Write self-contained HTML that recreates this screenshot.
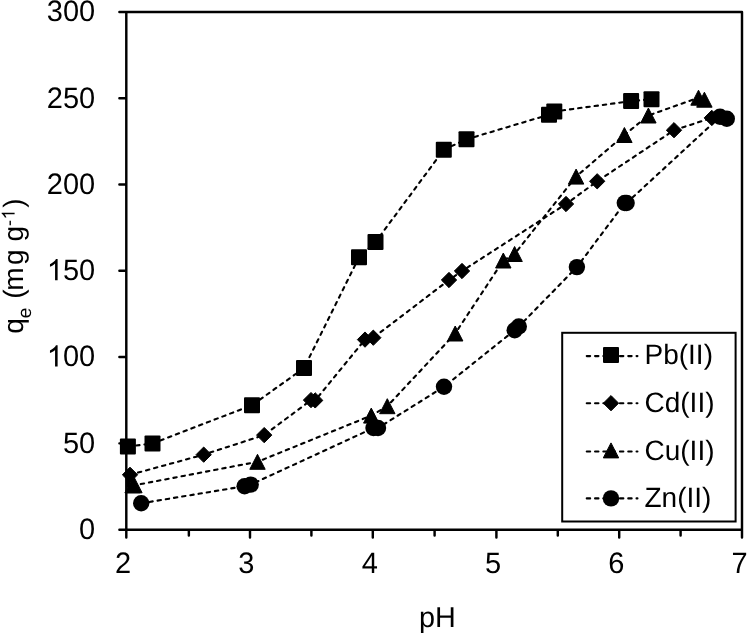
<!DOCTYPE html>
<html><head><meta charset="utf-8"><title>qe vs pH</title>
<style>
html,body{margin:0;padding:0;background:#fff;}
body{width:747px;height:635px;overflow:hidden;}
svg{display:block;will-change:transform;}
text{font-family:"Liberation Sans",sans-serif;fill:#000;text-rendering:geometricPrecision;}
</style></head><body>
<svg width="747" height="635" viewBox="0 0 747 635">
<rect width="747" height="635" fill="#fff"/>
<path d="M119.4 11.9H742M742 11.9V537.45M126.3 11.9V537.45M119.4 529.65H742M119.4 443.36H126.3M119.4 357.07H126.3M119.4 270.77H126.3M119.4 184.48H126.3M119.4 98.19H126.3M188.85 529.65V535.45M250 529.65V537.45M311.4 529.65V535.45M372.8 529.65V537.45M434.6 529.65V535.45M496.4 529.65V537.45M557.8 529.65V535.45M619.2 529.65V537.45M680.6 529.65V535.45" fill="none" stroke="#000" stroke-width="2.45" stroke-linecap="round"/>
<g font-size="29"><g transform="translate(95.2 539.05) scale(1 1.02)"><text text-anchor="end">0</text></g><g transform="translate(95.2 452.76) scale(1 1.02)"><text text-anchor="end">50</text></g><g transform="translate(95.2 366.47) scale(1 1.02)"><path d="M763 0L583 0L583 1147Q518 1085 412 1023Q307 961 223 930L223 1104Q374 1175 487 1276Q600 1377 647 1472L763 1472Z" transform="translate(-48.39 0) scale(0.01416 -0.01416)"/><text text-anchor="end">00</text></g><g transform="translate(95.2 280.17) scale(1 1.02)"><path d="M763 0L583 0L583 1147Q518 1085 412 1023Q307 961 223 930L223 1104Q374 1175 487 1276Q600 1377 647 1472L763 1472Z" transform="translate(-48.39 0) scale(0.01416 -0.01416)"/><text text-anchor="end">50</text></g><g transform="translate(95.2 193.88) scale(1 1.02)"><text text-anchor="end">200</text></g><g transform="translate(95.2 107.59) scale(1 1.02)"><text text-anchor="end">250</text></g><g transform="translate(95.2 21.3) scale(1 1.02)"><text text-anchor="end">300</text></g><text transform="translate(123.1 572.8) scale(1 1.02)" text-anchor="middle">2</text><text transform="translate(246.4 572.8) scale(1 1.02)" text-anchor="middle">3</text><text transform="translate(369.7 572.8) scale(1 1.02)" text-anchor="middle">4</text><text transform="translate(493 572.8) scale(1 1.02)" text-anchor="middle">5</text><text transform="translate(616.3 572.8) scale(1 1.02)" text-anchor="middle">6</text><text transform="translate(739.6 572.8) scale(1 1.02)" text-anchor="middle">7</text></g>
<text x="437.5" y="627.3" font-size="28.8" text-anchor="middle">pH</text>
<g transform="translate(23.3 340) rotate(-90)" font-size="28"><text x="6.32" y="0">q</text><text x="21.8" y="7.2" font-size="19.1">e</text><text x="41.26" y="0">(</text><text x="49.25" y="0">m</text><text x="74.92" y="0">g</text><text x="98.42" y="0">g</text><text x="113.9" y="-8.7" font-size="18">-</text><path d="M763 0L583 0L583 1147Q518 1085 412 1023Q307 961 223 930L223 1104Q374 1175 487 1276Q600 1377 647 1472L763 1472Z" transform="translate(120.54 -8.7) scale(0.00879 -0.00879)"/><text x="132.31" y="0">)</text></g>
<polyline points="127.9,446.5 152.5,443.5 252,405.2 304,368.1 359,257.3 375.5,242.05 443.8,149.7 466.5,139.3 549,114.7 554.3,111.5 631.1,101.1 651.5,99.2" fill="none" stroke="#000" stroke-width="2.1" stroke-dasharray="3.4 4.9" stroke-linecap="round"/><g fill="#000" stroke="#000" stroke-width="0" stroke-linejoin="round"><rect x="119.9" y="438.5" width="16" height="16" rx="1"/><rect x="144.5" y="435.5" width="16" height="16" rx="1"/><rect x="244" y="397.2" width="16" height="16" rx="1"/><rect x="296" y="360.1" width="16" height="16" rx="1"/><rect x="351" y="249.3" width="16" height="16" rx="1"/><rect x="367.5" y="234.05" width="16" height="16" rx="1"/><rect x="435.8" y="141.7" width="16" height="16" rx="1"/><rect x="458.5" y="131.3" width="16" height="16" rx="1"/><rect x="541" y="106.7" width="16" height="16" rx="1"/><rect x="546.3" y="103.5" width="16" height="16" rx="1"/><rect x="623.1" y="93.1" width="16" height="16" rx="1"/><rect x="643.5" y="91.2" width="16" height="16" rx="1"/></g>
<polyline points="130,474.8 203.7,454.65 264.2,435.1 311,400.1 315.2,400.4 365,339.6 373.3,337.7 449,280 462,271 566,204 597.2,181.3 674,130.2 711.8,117.9" fill="none" stroke="#000" stroke-width="2.1" stroke-dasharray="3.4 4.9" stroke-linecap="round"/><g fill="#000" stroke="#000" stroke-width="1" stroke-linejoin="round"><path d="M130 467.15L137.65 474.8L130 482.45L122.35 474.8Z"/><path d="M203.7 447L211.35 454.65L203.7 462.3L196.05 454.65Z"/><path d="M264.2 427.45L271.85 435.1L264.2 442.75L256.55 435.1Z"/><path d="M311 392.45L318.65 400.1L311 407.75L303.35 400.1Z"/><path d="M315.2 392.75L322.85 400.4L315.2 408.05L307.55 400.4Z"/><path d="M365 331.95L372.65 339.6L365 347.25L357.35 339.6Z"/><path d="M373.3 330.05L380.95 337.7L373.3 345.35L365.65 337.7Z"/><path d="M449 272.35L456.65 280L449 287.65L441.35 280Z"/><path d="M462 263.35L469.65 271L462 278.65L454.35 271Z"/><path d="M566 196.35L573.65 204L566 211.65L558.35 204Z"/><path d="M597.2 173.65L604.85 181.3L597.2 188.95L589.55 181.3Z"/><path d="M674 122.55L681.65 130.2L674 137.85L666.35 130.2Z"/><path d="M711.8 110.25L719.45 117.9L711.8 125.55L704.15 117.9Z"/></g>
<polyline points="132.6,485.3 134.4,485.3 257.5,461.8 371.25,415.6 387.3,406.2 455.2,333.5 503.3,260.5 514.6,254 576.1,176.6 624.4,135 648.4,115.5 698.5,97.7 704.4,99.7" fill="none" stroke="#000" stroke-width="2.1" stroke-dasharray="3.4 4.9" stroke-linecap="round"/><g fill="#000" stroke="#000" stroke-width="1" stroke-linejoin="round"><path d="M132.6 477.8L140.3 492.8L124.9 492.8Z"/><path d="M134.4 477.8L142.1 492.8L126.7 492.8Z"/><path d="M257.5 454.3L265.2 469.3L249.8 469.3Z"/><path d="M371.25 408.1L378.95 423.1L363.55 423.1Z"/><path d="M387.3 398.7L395 413.7L379.6 413.7Z"/><path d="M455.2 326L462.9 341L447.5 341Z"/><path d="M503.3 253L511 268L495.6 268Z"/><path d="M514.6 246.5L522.3 261.5L506.9 261.5Z"/><path d="M576.1 169.1L583.8 184.1L568.4 184.1Z"/><path d="M624.4 127.5L632.1 142.5L616.7 142.5Z"/><path d="M648.4 108L656.1 123L640.7 123Z"/><path d="M698.5 90.2L706.2 105.2L690.8 105.2Z"/><path d="M704.4 92.2L712.1 107.2L696.7 107.2Z"/></g>
<path d="M126.5 479L132 477L129 487L126.5 487Z" fill="#000"/>
<polyline points="141.2,503.3 244.6,486.2 250.7,484.6 373.5,428 378,428 444,386.7 514.7,330.2 518.8,326.5 576.9,267.1 624.8,203 626.6,203 720,116.8 726.8,118.7" fill="none" stroke="#000" stroke-width="2.1" stroke-dasharray="3.4 4.9" stroke-linecap="round"/><g fill="#000" stroke="#000" stroke-width="0" stroke-linejoin="round"><circle cx="141.2" cy="503.3" r="8.2"/><circle cx="244.6" cy="486.2" r="8.2"/><circle cx="250.7" cy="484.6" r="8.2"/><circle cx="373.5" cy="428" r="8.2"/><circle cx="378" cy="428" r="8.2"/><circle cx="444" cy="386.7" r="8.2"/><circle cx="514.7" cy="330.2" r="8.2"/><circle cx="518.8" cy="326.5" r="8.2"/><circle cx="576.9" cy="267.1" r="8.2"/><circle cx="624.8" cy="203" r="8.2"/><circle cx="626.6" cy="203" r="8.2"/><circle cx="720" cy="116.8" r="8.2"/><circle cx="726.8" cy="118.7" r="8.2"/></g>
<rect x="562.2" y="332.8" width="173.4" height="188.7" fill="#fff" stroke="#000" stroke-width="2"/>
<line x1="586.75" y1="356.1" x2="637.45" y2="356.1" stroke="#000" stroke-width="2.1" stroke-dasharray="3.4 4.9" stroke-linecap="round"/><g fill="#000" stroke="#000" stroke-width="0" stroke-linejoin="round"><rect x="603" y="347.1" width="16" height="16" rx="1"/></g><text x="644.5" y="364.4" font-size="28">Pb(II)</text>
<line x1="586.75" y1="403.2" x2="637.45" y2="403.2" stroke="#000" stroke-width="2.1" stroke-dasharray="3.4 4.9" stroke-linecap="round"/><g fill="#000" stroke="#000" stroke-width="1" stroke-linejoin="round"><path d="M611 395.55L618.65 403.2L611 410.85L603.35 403.2Z"/></g><text x="644.5" y="411.5" font-size="28">Cd(II)</text>
<line x1="586.75" y1="451.5" x2="637.45" y2="451.5" stroke="#000" stroke-width="2.1" stroke-dasharray="3.4 4.9" stroke-linecap="round"/><g fill="#000" stroke="#000" stroke-width="1" stroke-linejoin="round"><path d="M611 442.9L618.7 457.9L603.3 457.9Z"/></g><text x="644.5" y="459.8" font-size="28">Cu(II)</text>
<line x1="586.75" y1="498.4" x2="637.45" y2="498.4" stroke="#000" stroke-width="2.1" stroke-dasharray="3.4 4.9" stroke-linecap="round"/><g fill="#000" stroke="#000" stroke-width="0" stroke-linejoin="round"><circle cx="611" cy="498.4" r="8.2"/></g><text x="644.5" y="506.7" font-size="28">Zn(II)</text>
</svg>
</body></html>
